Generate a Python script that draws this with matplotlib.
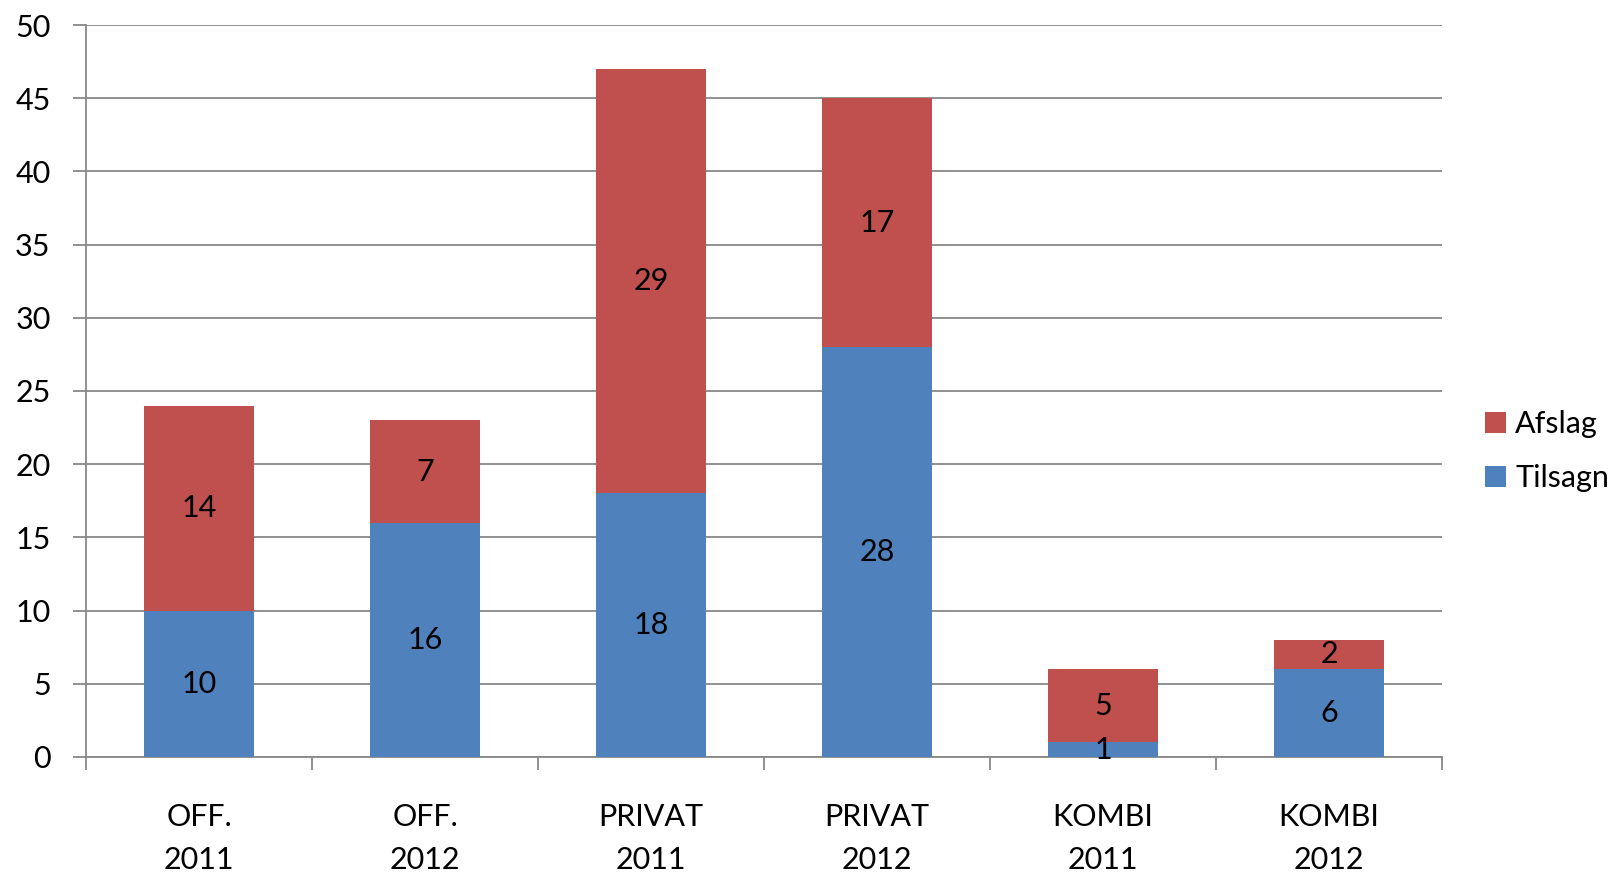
import matplotlib
matplotlib.use("Agg")
import matplotlib.pyplot as plt
import numpy as np

categories = ["OFF.\n2011", "OFF.\n2012", "PRIVAT\n2011", "PRIVAT\n2012", "KOMBI\n2011", "KOMBI\n2012"]
tilsagn = [10, 16, 18, 28, 1, 6]
afslag = [14, 7, 29, 17, 5, 2]

plt.rcParams['font.family'] = ['Lato', 'DejaVu Sans']
FS = 22
fig = plt.figure(figsize=(16.21, 8.75), dpi=100)
ax = fig.add_axes([0.0531, 0.1349, 0.8365, 0.8365])

x = np.arange(len(categories))
blue = "#4F81BD"
red = "#C0504D"
grid_c = "#888888"
b1 = ax.bar(x, tilsagn, width=0.49, color=blue, label="Tilsagn", zorder=3)
b2 = ax.bar(x, afslag, width=0.49, bottom=tilsagn, color=red, label="Afslag", zorder=3)

for xi, t, a in zip(x, tilsagn, afslag):
    ax.text(xi, t / 2, str(t), ha="center", va="center", fontsize=FS, zorder=4)
    ax.text(xi, t + a / 2, str(a), ha="center", va="center", fontsize=FS, zorder=4)

ax.set_xlim(-0.5, len(categories) - 0.5)
ax.set_ylim(0, 50)
ax.set_yticks(np.arange(0, 51, 5))
ax.yaxis.grid(True, color=grid_c, linewidth=1.3, zorder=0)
ax.set_axisbelow(True)
ax.set_xticks(x)
ax.set_xticklabels(categories, fontsize=FS, linespacing=1.68)
ax.set_xticks(np.arange(-0.5, len(categories), 1), minor=True)
ax.tick_params(axis="x", which="major", length=0, pad=33)
ax.tick_params(axis="x", which="minor", length=9, color=grid_c, width=1.3)
ax.tick_params(axis="y", labelsize=FS, length=9.5, color=grid_c, width=1.3, pad=16)
for s in ["top", "right"]:
    ax.spines[s].set_visible(False)
for s in ["left", "bottom"]:
    ax.spines[s].set_color(grid_c)
    ax.spines[s].set_linewidth(1.3)

handles = [b2, b1]
fig.legend(handles, ["Afslag", "Tilsagn"], loc="center left", bbox_to_anchor=(0.916, 0.4846),
           frameon=False, fontsize=FS, handlelength=0.69, handleheight=0.69,
           handletextpad=0.3, labelspacing=0.85, borderpad=0, borderaxespad=0)

fig.savefig("out.png", dpi=100)
